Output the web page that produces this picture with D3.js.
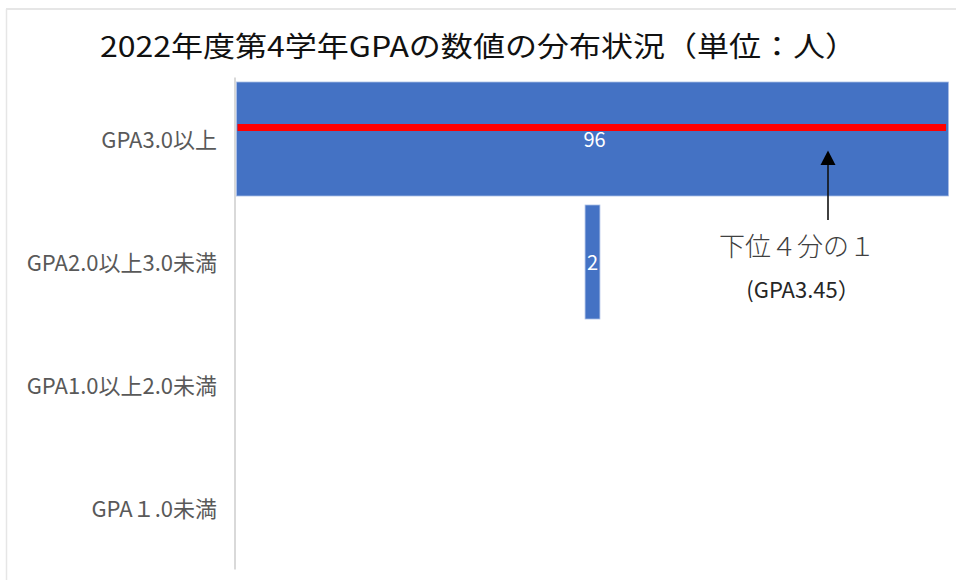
<!DOCTYPE html>
<html>
<head>
<meta charset="utf-8">
<script src="https://cdn.jsdelivr.net/npm/d3@7"></script>
<style>
html,body{margin:0;padding:0;background:#fff;}
svg{display:block;}
</style>
</head>
<body>
<svg id="chart" width="956" height="580"></svg>
<script>
const title = "2022年度第4学年GPAの数値の分布状況（単位：人）";
const categories = ["GPA3.0以上", "GPA2.0以上3.0未満", "GPA1.0以上2.0未満", "GPA１.0未満"];
const values = [96, 2, 0, 0];
const annotationLines = ["下位４分の１", "(GPA3.45）"];

(function () {
const W = 956, H = 580;
const svg = d3.select("#chart");
const font = "'Noto Sans CJK JP', 'Noto Sans', sans-serif";

// frame
svg.append("line").attr("x1", 6).attr("x2", W).attr("y1", 9).attr("y2", 9)
  .attr("stroke", "#dedede").attr("stroke-width", 1.5);
svg.append("line").attr("x1", 6.5).attr("x2", 6.5).attr("y1", 9).attr("y2", H)
  .attr("stroke", "#e6e6e6").attr("stroke-width", 1.5);

// title
svg.append("text")
  .attr("x", 100).attr("y", 57)
  .attr("textLength", 757).attr("lengthAdjust", "spacingAndGlyphs")
  .attr("font-family", font).attr("font-size", 28).attr("fill", "#111")
  .text(title);

const maxV = d3.max(values);
const x = d3.scaleLinear().domain([-maxV / 2, maxV / 2]).range([236.5, 948.5]);
const y = d3.scaleBand().domain(categories).range([77.5, 569.5])
  .paddingInner(0.0732).paddingOuter(0.0366);

// axis line
svg.append("line").attr("x1", 235).attr("x2", 235)
  .attr("y1", y.range()[0]).attr("y2", y.range()[1])
  .attr("stroke", "#d9d9d9").attr("stroke-width", 2);

// category labels
svg.append("g").selectAll("text").data(categories).join("text")
  .attr("x", 217).attr("y", d => y(d) + y.bandwidth() / 2 + 1)
  .attr("dy", "0.36em")
  .attr("text-anchor", "end")
  .attr("font-family", font).attr("font-size", 22).attr("fill", "#595959")
  .text(d => d);

const data = categories.map((c, i) => ({ c, v: values[i] }));

// funnel bars
svg.append("g").selectAll("rect").data(data.filter(d => d.v > 0)).join("rect")
  .attr("x", d => x(-d.v / 2))
  .attr("width", d => x(d.v / 2) - x(-d.v / 2))
  .attr("y", d => y(d.c))
  .attr("height", y.bandwidth())
  .attr("fill", "#4472c4")
  .attr("stroke", "#a9bde6").attr("stroke-width", 0.8);

// red quartile line inside top bar
const topBar = data[0];
svg.append("line")
  .attr("x1", x(-topBar.v / 2) + 1).attr("x2", x(topBar.v / 2) - 2.5)
  .attr("y1", y(topBar.c) + y.bandwidth() * 0.4).attr("y2", y(topBar.c) + y.bandwidth() * 0.4)
  .attr("stroke", "#ff0000").attr("stroke-width", 7);

// value labels
svg.append("g").selectAll("text").data(data.filter(d => d.v > 0)).join("text")
  .attr("x", d => x(0) + (d.v > 10 ? 2 : 0))
  .attr("y", d => y(d.c) + y.bandwidth() / 2 + 1)
  .attr("dy", "0.36em")
  .attr("text-anchor", "middle")
  .attr("font-family", font).attr("font-size", 20).attr("fill", "#ffffff")
  .text(d => d.v);

// arrow annotation
const ax = 828;
const arrowTop = y(topBar.c) + y.bandwidth() * 0.6;
svg.append("line").attr("x1", ax).attr("x2", ax)
  .attr("y1", 220).attr("y2", arrowTop + 12)
  .attr("stroke", "#111").attr("stroke-width", 1.6);
svg.append("path")
  .attr("d", `M${ax},${arrowTop} L${ax + 7.5},${arrowTop + 14.5} L${ax - 7.5},${arrowTop + 14.5} Z`)
  .attr("fill", "#000");

svg.append("text")
  .attr("x", 797).attr("y", 256)
  .attr("text-anchor", "middle")
  .attr("font-family", font).attr("font-weight", 300)
  .attr("font-size", 26).attr("fill", "#404040")
  .text(annotationLines[0]);
svg.append("text")
  .attr("x", 803).attr("y", 298)
  .attr("text-anchor", "middle")
  .attr("font-family", font)
  .attr("font-size", 22).attr("fill", "#262626")
  .text(annotationLines[1]);
})();
</script>
</body>
</html>
